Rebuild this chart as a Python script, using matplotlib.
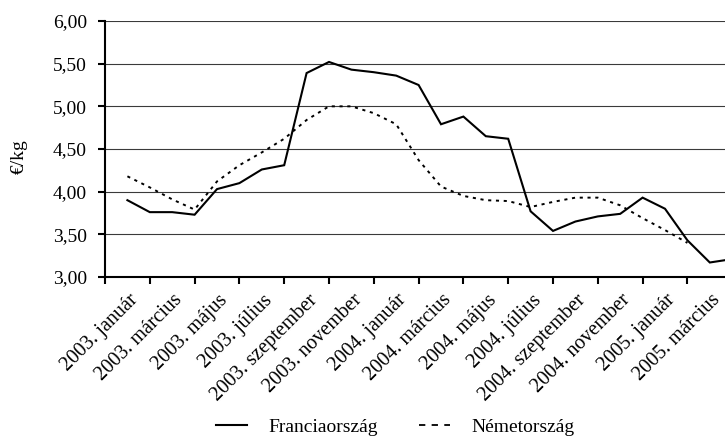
import numpy as np
import matplotlib
matplotlib.use('Agg')
import matplotlib.pyplot as plt
from matplotlib.lines import Line2D
from matplotlib.ticker import FuncFormatter, FixedLocator
from matplotlib.transforms import ScaledTranslation

plt.rcParams['font.family'] = ['Liberation Serif', 'DejaVu Serif']

## monthly prices, 2003 jan .. 2005 apr (EUR/kg)
france = [3.90, 3.76, 3.76, 3.73, 4.03, 4.10, 4.26, 4.31, 5.39, 5.52, 5.43, 5.40,
          5.36, 5.25, 4.79, 4.88, 4.65, 4.62, 3.77, 3.54, 3.65, 3.71, 3.74, 3.93,
          3.80, 3.43, 3.17, 3.21]
germany = [4.18, 4.05, 3.91, 3.79, 4.12, 4.31, 4.46, 4.62, 4.84, 5.00, 5.00, 4.92,
           4.79, 4.37, 4.06, 3.95, 3.90, 3.89, 3.82, 3.88, 3.93, 3.93, 3.84, 3.69,
           3.55, 3.40]

months = ['január', 'március', 'május', 'július', 'szeptember', 'november']
xlabels = ['%d. %s' % (yr, m) for yr in (2003, 2004) for m in months]
xlabels += ['2005. január', '2005. március']

series_names = ['Franciaország', 'Németország']
ylabel = '€/kg'
title = '(2003 – 2005)'

xf = np.arange(1, len(france) + 1)
xg = np.arange(1, len(germany) + 1)

fig = plt.figure(figsize=(7.25, 4.41), dpi=100)
ax = fig.add_axes([105/725, 164/441, 649.6/725, 256/441])

ax.plot(xf, france, color='black', lw=1.5, solid_joinstyle='miter')
ax.plot(xg, germany, color='black', lw=1.4, linestyle=(0, (1.6, 2.4)))

ax.set_xlim(0, 29)
ax.set_ylim(3.0, 6.0)
ax.set_yticks(np.arange(3.0, 6.01, 0.5))
ax.yaxis.set_major_formatter(FuncFormatter(lambda v, p: ('%.2f' % v).replace('.', ',')))
ax.grid(axis='y', color='#3a3a3a', lw=0.8)
ax.set_axisbelow(True)

ax.xaxis.set_major_locator(FixedLocator(np.arange(0, 29, 2)))
ax.xaxis.set_major_formatter(FuncFormatter(lambda v, p: ''))
ax.xaxis.set_minor_locator(FixedLocator(np.arange(1, 28, 2)))
ax.set_xticklabels(xlabels, minor=True, rotation=45, ha='right', va='top',
                   rotation_mode='anchor', fontsize=14.5)
ax.tick_params(axis='x', which='minor', length=0, pad=10)
ax.tick_params(axis='x', which='major', length=5, width=1.5, direction='out')
ax.tick_params(axis='y', length=5, width=1.5, labelsize=14, pad=8)
off = ScaledTranslation(1/100, 0, fig.dpi_scale_trans)
for lab in ax.get_xticklabels(minor=True):
    lab.set_transform(lab.get_transform() + off)

for s in ['top', 'right']:
    ax.spines[s].set_visible(False)
for s in ['left', 'bottom']:
    ax.spines[s].set_linewidth(1.5)

ax.set_ylabel(ylabel, fontsize=14)
ax.yaxis.set_label_coords(-(105-28)/649.6, 0.47)

fig.text(380/725, 1.010, title, ha='center', va='baseline', fontsize=14)

handles = [Line2D([], [], color='black', lw=1.5),
           Line2D([], [], color='black', lw=1.3, linestyle=(0, (3.5, 3.5)))]
fig.legend(handles, series_names, loc='center', bbox_to_anchor=(395/725, 14/441),
           ncol=2, frameon=False, fontsize=14, handlelength=1.6,
           handletextpad=1.1, columnspacing=2.1)

fig.savefig('out.png', dpi=100)
